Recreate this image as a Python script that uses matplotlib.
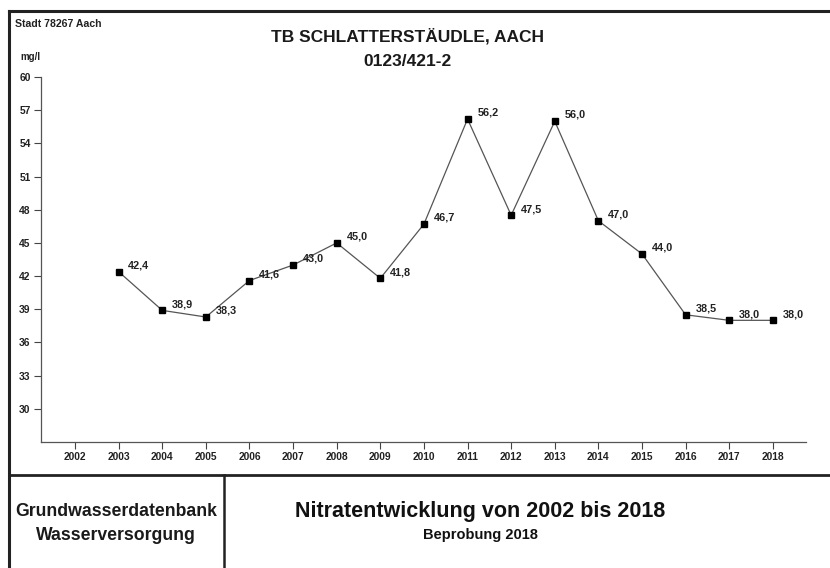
import matplotlib
matplotlib.use("Agg")
import matplotlib.pyplot as plt
from matplotlib.lines import Line2D

plt.rcParams['font.family'] = ['Liberation Sans', 'DejaVu Sans']

years = [2003, 2004, 2005, 2006, 2007, 2008, 2009, 2010, 2011, 2012, 2013, 2014, 2015, 2016, 2017, 2018]
values = [42.4, 38.9, 38.3, 41.6, 43.0, 45.0, 41.8, 46.7, 56.2, 47.5, 56.0, 47.0, 44.0, 38.5, 38.0, 38.0]
xticks = list(range(2002, 2019))
yticks = [30, 33, 36, 39, 42, 45, 48, 51, 54, 57, 60]

W, H = 830, 568
fig = plt.figure(figsize=(W / 100, H / 100), dpi=100)
fig.patch.set_facecolor('white')

def fx(px):
    return px / W

def fy(py):
    return 1 - py / H

ax = fig.add_axes([fx(41), fy(442), fx(806) - fx(41), fy(77) - fy(442)])
ax.plot(years, values, color='#555555', lw=0.9, zorder=2)
ax.plot(years, values, ls='none', marker='s', ms=4.5, mfc='black', mec='black', zorder=3)
for x, v in zip(years, values):
    ax.annotate(f"{v:.1f}".replace('.', ','), (x, v), xytext=(7, 4.5), textcoords='offset points',
                fontsize=7.8, fontweight='bold', color='#222222', ha='left', va='center')

ax.set_xlim(2001.22, 2018.76)
ax.set_ylim(27, 60)
ax.set_xticks(xticks)
ax.set_xticklabels([str(t) for t in xticks], fontsize=7.4, fontweight='bold', color='#222222')
ax.set_yticks(yticks)
ax.set_yticklabels([str(t) for t in yticks], fontsize=7.4, fontweight='bold', color='#222222')
ax.tick_params(axis='both', direction='out', length=5, width=0.8, color='#444444', pad=2.5)
for s in ['top', 'right']:
    ax.spines[s].set_visible(False)
for s in ['left', 'bottom']:
    ax.spines[s].set_color('#555555')
    ax.spines[s].set_linewidth(0.9)
ax.spines['left'].set_bounds(27, 60)

# Frame lines
lc = '#222222'
fig.add_artist(Line2D([fx(9), 1.0], [fy(11), fy(11)], color=lc, lw=2.2))
fig.add_artist(Line2D([fx(9), fx(9)], [fy(11), 0.0], color=lc, lw=2.2))
fig.add_artist(Line2D([fx(9), 1.0], [fy(475), fy(475)], color=lc, lw=2.0))
fig.add_artist(Line2D([fx(224), fx(224)], [fy(475), 0.0], color=lc, lw=1.8))

# Texts
fig.text(fx(15), fy(24), "Stadt 78267 Aach", fontsize=7.6, fontweight='bold', ha='left', va='center', color='#222222')
fig.text(fx(20), fy(57), "mg/l", fontsize=7, fontweight='bold', ha='left', va='center', color='#222222')
fig.text(fx(407), fy(36), "TB SCHLATTERSTÄUDLE, AACH", fontsize=12.5, fontweight='bold', ha='center', va='center', color='#1a1a1a')
fig.text(fx(407), fy(62), "0123/421-2", fontsize=12.5, fontweight='bold', ha='center', va='center', color='#1a1a1a')

fig.text(fx(116), fy(511), "Grundwasserdatenbank", fontsize=12.7, fontweight='bold', ha='center', va='center', color='#1a1a1a')
fig.text(fx(116), fy(536), "Wasserversorgung", fontsize=12.7, fontweight='bold', ha='center', va='center', color='#1a1a1a')
fig.text(fx(480), fy(512), "Nitratentwicklung von 2002 bis 2018", fontsize=15.5, fontweight='bold', ha='center', va='center', color='#111111')
fig.text(fx(480), fy(535), "Beprobung 2018", fontsize=10.5, fontweight='bold', ha='center', va='center', color='#111111')

fig.savefig("out.png", dpi=100, facecolor='white')
